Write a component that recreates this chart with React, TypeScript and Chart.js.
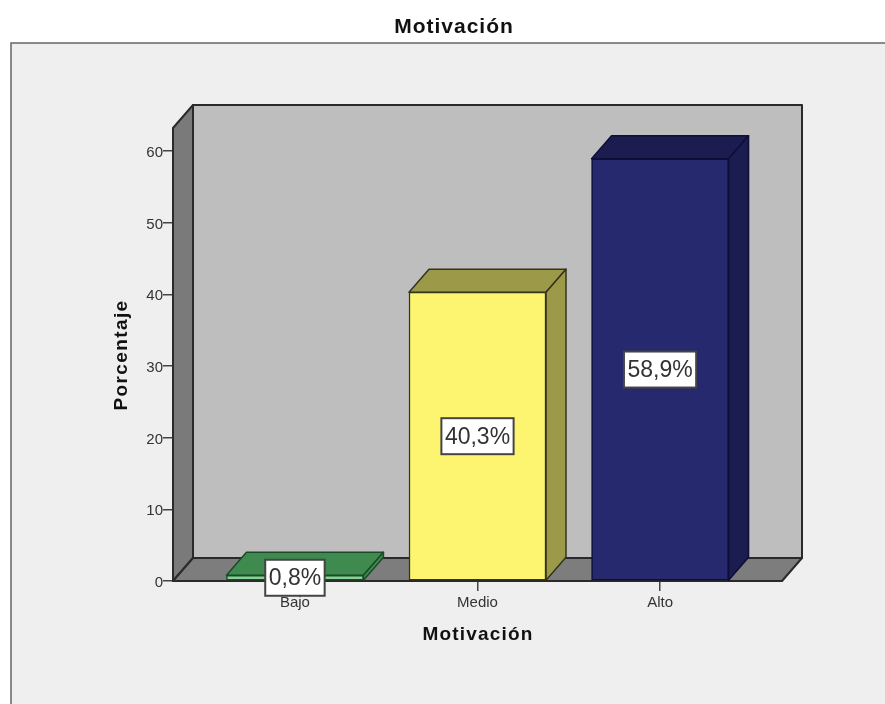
import { useEffect, useRef } from "react";
import { Chart, registerables } from "chart.js";

Chart.register(...registerables);

const categories = ["Bajo", "Medio", "Alto"];
const percentages = [0.8, 40.3, 58.9];
const frontColors = ["#84d392", "#fdf56f", "#27296f"];
const shadeColors = ["#3f8a4f", "#9c9a48", "#1b1c4f"];
const edgeColors = ["#1c4a28", "#34341c", "#0e0e38"];
const yTicks = [0, 10, 20, 30, 40, 50, 60];
const chartTitle = "Motivación";
const xTitle = "Motivación";
const yTitle = "Porcentaje";

const FONT = "'Liberation Sans', Arial, sans-serif";
const DEPTH_X = 20;
const DEPTH_Y = 23;

function poly(ctx: CanvasRenderingContext2D, pts: number[][], fill: string, stroke: string, lw = 1.5) {
  ctx.beginPath();
  pts.forEach(([x, y], i) => (i ? ctx.lineTo(x, y) : ctx.moveTo(x, y)));
  ctx.closePath();
  ctx.fillStyle = fill;
  ctx.fill();
  ctx.lineWidth = lw;
  ctx.strokeStyle = stroke;
  ctx.lineJoin = "round";
  ctx.stroke();
}

// Centred, letter-spaced bold heading, optionally rotated for the vertical axis.
function heading(ctx: any, text: string, x: number, y: number, size: number, spacing: number, rotated = false) {
  ctx.save();
  ctx.translate(x, y);
  if (rotated) ctx.rotate(-Math.PI / 2);
  ctx.fillStyle = "#111111";
  ctx.font = `bold ${size}px ${FONT}`;
  ctx.letterSpacing = `${spacing}px`;
  ctx.textAlign = "center";
  ctx.textBaseline = "middle";
  ctx.fillText(text, 0, 0);
  ctx.restore();
}

// Grey panel behind the whole plot, plus the chart and axis headings.
const panelPlugin = {
  id: "panel",
  beforeDraw(chart: any) {
    const { ctx, width, height } = chart;
    ctx.save();
    ctx.fillStyle = "#ffffff";
    ctx.fillRect(0, 0, width, height);
    ctx.fillStyle = "#efefef";
    ctx.fillRect(11, 43, width - 11, height - 43);
    ctx.strokeStyle = "#666666";
    ctx.lineWidth = 1.5;
    ctx.beginPath();
    ctx.moveTo(11, height);
    ctx.lineTo(11, 43);
    ctx.lineTo(width, 43);
    ctx.stroke();
    ctx.restore();
    heading(ctx, chartTitle, 454, 27, 21, 1);
    heading(ctx, xTitle, 478, 635, 19, 1.2);
    heading(ctx, yTitle, 122, 355, 19, 1.4, true);
  },
};

// Back wall, side wall and floor of the box, then the depth faces of the bars.
const boxPlugin = {
  id: "box3d",
  beforeDatasetsDraw(chart: any) {
    const { ctx, chartArea: a } = chart;
    const edge = "#2a2a2a";
    ctx.save();
    poly(ctx, [[a.left + DEPTH_X, a.top - DEPTH_Y], [a.right + DEPTH_X, a.top - DEPTH_Y], [a.right + DEPTH_X, a.bottom - DEPTH_Y], [a.left + DEPTH_X, a.bottom - DEPTH_Y]], "#bebebe", edge, 2);
    poly(ctx, [[a.left, a.top], [a.left + DEPTH_X, a.top - DEPTH_Y], [a.left + DEPTH_X, a.bottom - DEPTH_Y], [a.left, a.bottom]], "#7a7a7a", edge, 2);
    poly(ctx, [[a.left, a.bottom], [a.left + DEPTH_X, a.bottom - DEPTH_Y], [a.right + DEPTH_X, a.bottom - DEPTH_Y], [a.right, a.bottom]], "#7d7d7d", edge, 2);
    chart.getDatasetMeta(0).data.forEach((bar: any, i: number) => {
      const l = bar.x - bar.width / 2;
      const r = bar.x + bar.width / 2;
      poly(ctx, [[l, bar.y], [l + DEPTH_X, bar.y - DEPTH_Y], [r + DEPTH_X, bar.y - DEPTH_Y], [r, bar.y]], shadeColors[i], edgeColors[i]);
      poly(ctx, [[r, bar.y], [r + DEPTH_X, bar.y - DEPTH_Y], [r + DEPTH_X, bar.base - DEPTH_Y], [r, bar.base]], shadeColors[i], edgeColors[i]);
    });
    ctx.restore();
  },
};

// Boxed percentage label at the middle of each bar's front face.
const valueLabelPlugin = {
  id: "valueLabels",
  afterDatasetsDraw(chart: any) {
    const { ctx } = chart;
    ctx.save();
    ctx.font = `23px ${FONT}`;
    ctx.textAlign = "center";
    ctx.textBaseline = "middle";
    chart.getDatasetMeta(0).data.forEach((bar: any, i: number) => {
      const text = `${percentages[i].toFixed(1).replace(".", ",")}%`;
      const w = ctx.measureText(text).width + 7;
      const h = 36;
      const cy = (bar.y + bar.base) / 2;
      ctx.fillStyle = "#ffffff";
      ctx.fillRect(bar.x - w / 2, cy - h / 2, w, h);
      ctx.strokeStyle = "#444444";
      ctx.lineWidth = 2;
      ctx.strokeRect(bar.x - w / 2, cy - h / 2, w, h);
      ctx.fillStyle = "#333333";
      ctx.fillText(text, bar.x, cy + 1);
    });
    ctx.restore();
  },
};

export default function App() {
  const ref = useRef<HTMLCanvasElement>(null);

  useEffect(() => {
    if (!ref.current) return;
    const chart = new Chart(ref.current, {
      type: "bar",
      data: {
        datasets: [
          {
            data: percentages.map((y, x) => ({ x, y })),
            backgroundColor: frontColors,
            borderColor: edgeColors,
            borderWidth: 1.5,
            borderSkipped: false,
            barThickness: 137,
          },
        ],
      },
      options: {
        responsive: false,
        animation: false,
        layout: { padding: { top: 128, right: 103, bottom: 0, left: 0 } },
        plugins: { legend: { display: false }, title: { display: false }, tooltip: { enabled: false } },
        scales: {
          x: {
            type: "linear",
            offset: false,
            min: -0.668,
            max: 2.668,
            afterBuildTicks: (scale: any) => {
              scale.ticks = categories.map((_, value) => ({ value }));
            },
            afterFit: (scale: any) => {
              scale.height = 123;
            },
            border: { display: false },
            grid: { offset: false, drawOnChartArea: false, drawTicks: true, tickLength: 10, color: "#444444", lineWidth: 1.5 },
            ticks: {
              callback: (v: any) => categories[v],
              color: "#333333",
              padding: 3,
              maxRotation: 0,
              font: { family: FONT, size: 15 },
            },
          },
          y: {
            type: "linear",
            min: 0,
            max: 63.2,
            afterBuildTicks: (scale: any) => {
              scale.ticks = yTicks.map((value) => ({ value }));
            },
            afterFit: (scale: any) => {
              scale.width = 173;
            },
            border: { display: false },
            grid: { drawOnChartArea: false, drawTicks: true, tickLength: 10, color: "#444444", lineWidth: 1.5 },
            ticks: {
              color: "#333333",
              padding: 0,
              labelOffset: 2,
              font: { family: FONT, size: 15 },
            },
          },
        },
      },
      plugins: [panelPlugin, boxPlugin, valueLabelPlugin],
    } as any);
    return () => chart.destroy();
  }, []);

  return (
    <canvas
      ref={ref}
      width={885}
      height={704}
      style={{ position: "fixed", left: 0, top: 0, display: "block" }}
    />
  );
}
